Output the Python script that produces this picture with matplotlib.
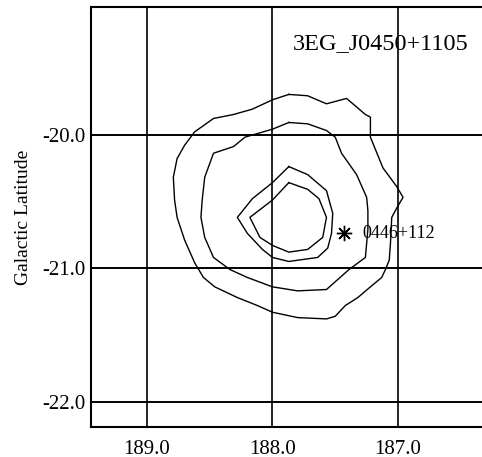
import matplotlib
matplotlib.use("Agg")
import matplotlib.pyplot as plt

plt.rcParams['font.family'] = 'Liberation Serif'

# contour levels, outermost first (galactic longitude, latitude)
c4_lon = [187.87, 187.72, 187.57, 187.41, 187.26, 187.22, 187.22, 187.12, 187.01, 186.96,
          187.01, 187.05, 187.06, 187.07, 187.10, 187.13, 187.22, 187.32, 187.42, 187.50,
          187.57, 187.80, 188.00, 188.12, 188.28, 188.46, 188.55, 188.62, 188.70, 188.76,
          188.78, 188.79, 188.76, 188.70, 188.62, 188.47, 188.31, 188.16, 188.00]
c4_lat = [-19.70, -19.71, -19.77, -19.73, -19.85, -19.87, -20.02, -20.25, -20.39, -20.47,
          -20.55, -20.62, -20.81, -20.94, -21.01, -21.07, -21.14, -21.22, -21.28, -21.36,
          -21.38, -21.37, -21.33, -21.28, -21.22, -21.14, -21.07, -20.96, -20.79, -20.62,
          -20.49, -20.32, -20.18, -20.08, -19.98, -19.88, -19.85, -19.81, -19.74]

c3_lon = [187.87, 187.72, 187.57, 187.50, 187.45, 187.33, 187.25, 187.24, 187.24, 187.26,
          187.39, 187.57, 187.80, 188.00, 188.20, 188.34, 188.47, 188.54, 188.57, 188.56,
          188.54, 188.47, 188.31, 188.22, 188.00]
c3_lat = [-19.91, -19.92, -19.97, -20.02, -20.14, -20.30, -20.47, -20.57, -20.71, -20.92,
          -21.01, -21.16, -21.17, -21.14, -21.07, -21.01, -20.92, -20.77, -20.62, -20.49,
          -20.32, -20.14, -20.09, -20.02, -19.96]

c2_lon = [187.87, 187.72, 187.57, 187.52, 187.53, 187.56, 187.64, 187.87, 188.00, 188.08,
          188.20, 188.28, 188.16, 188.00]
c2_lat = [-20.24, -20.30, -20.42, -20.59, -20.74, -20.85, -20.92, -20.95, -20.92, -20.86,
          -20.74, -20.62, -20.48, -20.36]

c1_lon = [187.87, 187.72, 187.63, 187.57, 187.60, 187.72, 187.87, 188.00, 188.10, 188.18, 188.00]
c1_lat = [-20.36, -20.41, -20.48, -20.62, -20.77, -20.86, -20.88, -20.83, -20.77, -20.62, -20.49]

src_lon, src_lat, src_name = 187.43, -20.74, "0446+112"
title = "3EG_J0450+1105"

x_ticks = [189.0, 188.0, 187.0]
y_ticks = [-20.0, -21.0, -22.0]

fig = plt.figure(figsize=(4.82, 4.57), dpi=100)
ax = fig.add_axes([0.1898, 0.0656, 0.8102, 0.919])

for lon, lat in [(c4_lon, c4_lat), (c3_lon, c3_lat), (c2_lon, c2_lat), (c1_lon, c1_lat)]:
    ax.plot(lon + lon[:1], lat + lat[:1], "k-", linewidth=1.0)

ax.plot([src_lon], [src_lat], "k", marker=(8, 2, 0), markersize=11, markeredgewidth=1.0,
        linestyle="none")
ax.text(src_lon - 0.15, src_lat, src_name, ha="left", va="center", size=13)

for xv in x_ticks:
    ax.axvline(xv, color="k", linewidth=1.2, zorder=0)
for yv in y_ticks:
    ax.axhline(yv, color="k", linewidth=1.4, zorder=0)

ax.set_xlim(189.442, 186.331)
ax.set_ylim(-22.189, -19.046)
ax.set_xticks(x_ticks)
ax.set_xticklabels(["%.1f" % v for v in x_ticks])
ax.set_yticks(y_ticks)
ax.set_yticklabels(["%.1f" % v for v in y_ticks])
ax.tick_params(length=0, labelsize=15, pad=4)
ax.tick_params(axis="x", pad=9)
ax.set_ylabel("Galactic Latitude", size=14, labelpad=8)

ax.spines["right"].set_visible(False)
for s in ["left", "top", "bottom"]:
    ax.spines[s].set_linewidth(1.5)

ax.text(0.516, 0.914, title, transform=ax.transAxes, ha="left", va="center", size=17.5)

fig.savefig("out.png", dpi=100)
